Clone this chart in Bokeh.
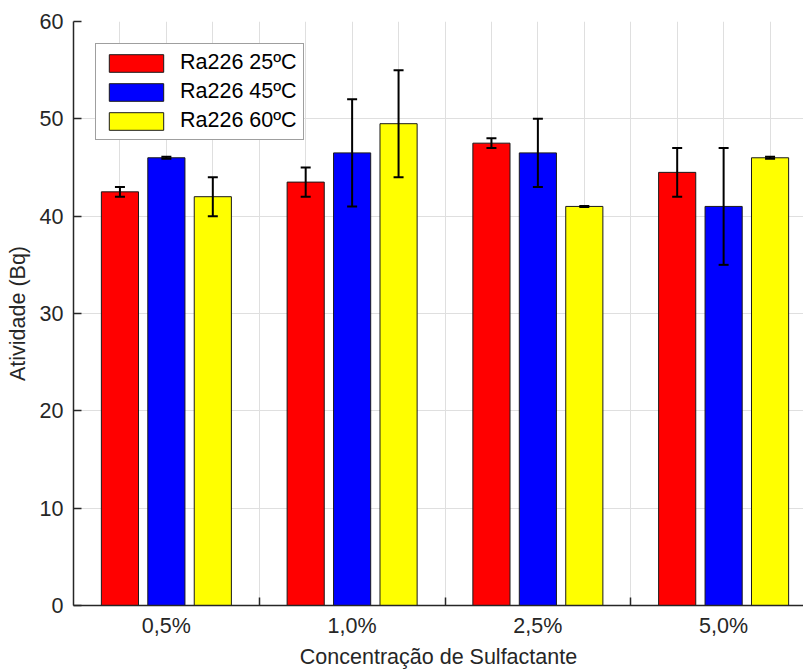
import numpy as np
from bokeh.plotting import figure
from bokeh.models import (ColumnDataSource, FixedTicker, Range1d, Whisker, TeeHead,
                          Legend, LegendItem)
from bokeh.embed import file_html
from bokeh.resources import INLINE

# ---- data ----
categories = ["0,5%", "1,0%", "2,5%", "5,0%"]
series_names = ["Ra226 25ºC", "Ra226 45ºC", "Ra226 60ºC"]
ra226_25 = [42.5, 43.5, 47.5, 44.5]
err_25 = [0.5, 1.5, 0.5, 2.5]
ra226_45 = [46.0, 46.5, 46.5, 41.0]
err_45 = [0.1, 5.5, 3.5, 6.0]
ra226_60 = [42.0, 49.5, 41.0, 46.0]
err_60 = [2.0, 5.5, 0.05, 0.1]
y_ticks = [0, 10, 20, 30, 40, 50, 60]
x_title = "Concentração de Sulfactante"
y_title = "Atividade (Bq)"

colors = ["#ff0000", "#0000ff", "#ffff00"]
values = [ra226_25, ra226_45, ra226_60]
errors = [err_25, err_45, err_60]

FONT = "Liberation Sans"
TXT = "#262626"
FS = "21.5px"

groups = np.arange(1, len(categories) + 1, dtype=float)
step = 0.25
offsets = [-step, 0.0, step]

p = figure(width=803, height=671, output_backend="svg", toolbar_location=None,
           x_range=Range1d(0.5, 4.43), y_range=Range1d(0, 60),
           min_border_left=73, min_border_right=0, min_border_top=21,
           min_border_bottom=66)
p.outline_line_color = None
p.background_fill_color = "white"
p.border_fill_color = "white"

items = []
for name, col, vals, errs, off in zip(series_names, colors, values, errors, offsets):
    v = np.array(vals)
    e = np.array(errs)
    src = ColumnDataSource(dict(x=groups + off, top=v, upper=v + e, lower=v - e))
    r = p.vbar(x="x", top="top", width=0.2, source=src, fill_color=col,
               line_color="#1a1a1a", line_width=1)
    items.append(LegendItem(label=name, renderers=[r]))
    w = Whisker(base="x", upper="upper", lower="lower", source=src,
                line_color="black", line_width=2, level="overlay",
                upper_head=TeeHead(size=10, line_width=2, line_color="black"),
                lower_head=TeeHead(size=10, line_width=2, line_color="black"))
    p.add_layout(w)

# grids
grid_pos = list(np.arange(0.5 + step, len(categories) + 0.5 + 1e-9, step))
p.xgrid.ticker = FixedTicker(ticks=grid_pos)
p.ygrid.ticker = FixedTicker(ticks=y_ticks)
for g in (p.xgrid, p.ygrid):
    g.grid_line_color = "#dfdfdf"
    g.grid_line_width = 1
    g.level = "underlay"

# x axis
xa = p.xaxis[0]
xa.ticker = FixedTicker(ticks=list(groups), minor_ticks=list(groups[:-1] + 0.5))
xa.major_label_overrides = {float(g): c for g, c in zip(groups, categories)}
xa.major_tick_in = 0
xa.major_tick_out = 0
xa.minor_tick_in = 8
xa.minor_tick_out = 0
xa.minor_tick_line_color = TXT
xa.axis_label = x_title
xa.major_label_standoff = 8
xa.axis_label_standoff = 4

# y axis
ya = p.yaxis[0]
ya.ticker = FixedTicker(ticks=y_ticks)
ya.major_tick_in = 8
ya.major_tick_out = 0
ya.minor_tick_line_color = None
ya.axis_label = y_title
ya.major_label_standoff = 10
ya.axis_label_standoff = 7

for ax in (xa, ya):
    ax.axis_line_color = TXT
    ax.axis_line_width = 1.5
    ax.major_tick_line_color = TXT
    ax.major_tick_line_width = 1.5
    ax.minor_tick_line_width = 1.5
    ax.major_label_text_font = FONT
    ax.major_label_text_font_size = FS
    ax.major_label_text_color = TXT
    ax.axis_label_text_font = FONT
    ax.axis_label_text_font_size = FS
    ax.axis_label_text_color = TXT
    ax.axis_label_text_font_style = "normal"

legend = Legend(items=items, location="top_left", margin=22,
                padding=6, spacing=4, glyph_width=68, glyph_height=22,
                label_height=22, label_standoff=10,
                label_text_font=FONT, label_text_font_size=FS, label_text_color="black",
                border_line_color="#404040", border_line_width=1,
                background_fill_color="white", background_fill_alpha=1)
p.add_layout(legend, "center")

open("out.html", "w").write(file_html(p, INLINE))
